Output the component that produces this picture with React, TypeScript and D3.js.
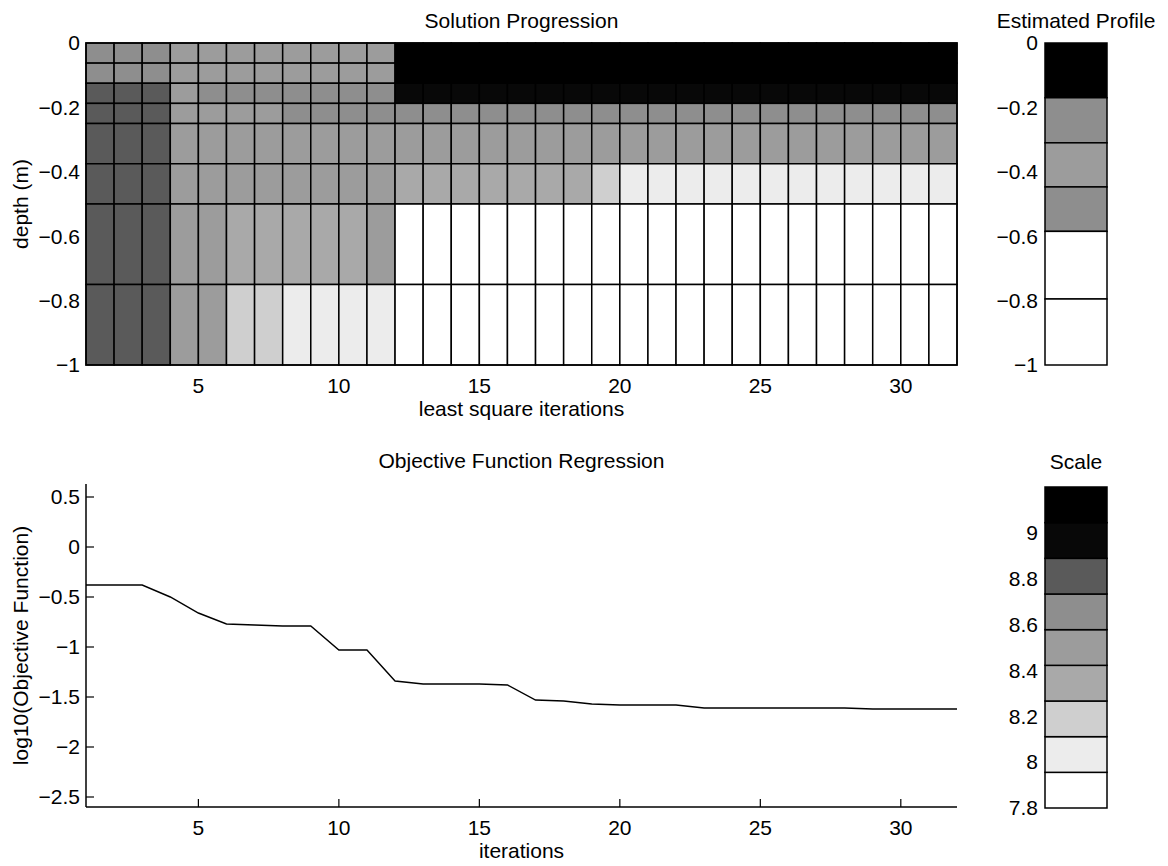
import React from 'react';
import * as d3 from 'd3';

// ---------- data ----------
const iterationsAxis = [1, 32];
const iterTicks = [5, 10, 15, 20, 25, 30];
const depthTicks = [0, -0.2, -0.4, -0.6, -0.8, -1];
const objTicks = [0.5, 0, -0.5, -1, -1.5, -2, -2.5];
const scaleTicks = [7.8, 8, 8.2, 8.4, 8.6, 8.8, 9];
const scaleDomain = [7.8, 9.2];

// grey levels of the 9 colour bands (white -> black)
const bandGrays = ['#ffffff', '#ececec', '#cfcfcf', '#a9a9a9', '#9c9c9c', '#8e8e8e', '#5a5a5a', '#080808', '#000000'];

// log10(objective function) per iteration 1..32
const objectiveLog10 = [
  -0.38, -0.38, -0.38, -0.5, -0.66, -0.77, -0.78, -0.79, -0.79, -1.03, -1.03,
  -1.34, -1.37, -1.37, -1.37, -1.38, -1.53, -1.54, -1.57, -1.58, -1.58, -1.58,
  -1.61, -1.61, -1.61, -1.61, -1.61, -1.61, -1.62, -1.62, -1.62, -1.62,
];

// depth layer edges of the solution progression grid
const depthEdges = [0, -0.0625, -0.125, -0.1875, -0.25, -0.375, -0.5, -0.75, -1];

// layer values per iteration column (31 columns)
const layer1 = [8.7, 8.7, 8.7, 8.52, 8.5, 8.48, 8.5, 8.53, 8.55, 8.55, 8.56, 9.1, 9.1, 9.1, 9.1, 9.1, 9.1, 9.1, 9.1, 9.1, 9.1, 9.1, 9.1, 9.1, 9.1, 9.1, 9.1, 9.1, 9.1, 9.1, 9.1];
const layer2 = [8.7, 8.7, 8.7, 8.52, 8.5, 8.48, 8.5, 8.53, 8.55, 8.55, 8.56, 9.1, 9.1, 9.1, 9.1, 9.1, 9.1, 9.1, 9.1, 9.1, 9.1, 9.1, 9.1, 9.1, 9.1, 9.1, 9.1, 9.1, 9.1, 9.1, 9.1];
const layer3 = [8.82, 8.82, 8.82, 8.55, 8.58, 8.6, 8.62, 8.62, 8.63, 8.63, 8.64, 8.95, 8.95, 8.95, 8.95, 8.95, 8.95, 8.95, 8.95, 8.95, 8.95, 8.95, 8.95, 8.95, 8.95, 8.95, 8.95, 8.95, 8.95, 8.95, 8.95];
const layer4 = [8.8, 8.8, 8.8, 8.5, 8.52, 8.55, 8.56, 8.58, 8.58, 8.58, 8.6, 8.62, 8.62, 8.62, 8.62, 8.62, 8.62, 8.62, 8.62, 8.62, 8.62, 8.62, 8.62, 8.62, 8.62, 8.62, 8.62, 8.62, 8.62, 8.62, 8.62];
const layer5 = [8.8, 8.8, 8.8, 8.45, 8.45, 8.46, 8.48, 8.5, 8.5, 8.52, 8.52, 8.55, 8.55, 8.55, 8.55, 8.55, 8.55, 8.55, 8.55, 8.55, 8.55, 8.55, 8.55, 8.55, 8.55, 8.55, 8.55, 8.55, 8.55, 8.55, 8.55];
const layer6 = [8.8, 8.8, 8.8, 8.48, 8.5, 8.5, 8.5, 8.52, 8.52, 8.53, 8.53, 8.38, 8.36, 8.33, 8.32, 8.33, 8.32, 8.3, 8.2, 8.05, 8.05, 8.05, 8.05, 8.05, 8.05, 8.05, 8.05, 8.05, 8.05, 8.05, 8.05];
const layer7 = [8.8, 8.8, 8.8, 8.5, 8.48, 8.42, 8.38, 8.36, 8.38, 8.36, 8.45, 7.85, 7.85, 7.85, 7.85, 7.85, 7.85, 7.85, 7.85, 7.85, 7.85, 7.85, 7.85, 7.85, 7.85, 7.85, 7.85, 7.85, 7.85, 7.85, 7.85];
const layer8 = [8.8, 8.8, 8.8, 8.5, 8.45, 8.25, 8.15, 8.05, 8.05, 8.05, 8.05, 7.85, 7.85, 7.85, 7.85, 7.85, 7.85, 7.85, 7.85, 7.85, 7.85, 7.85, 7.85, 7.85, 7.85, 7.85, 7.85, 7.85, 7.85, 7.85, 7.85];
const layers = [layer1, layer2, layer3, layer4, layer5, layer6, layer7, layer8];

// estimated profile
const profileEdges = [0, -0.17, -0.31, -0.447, -0.585, -0.795, -1];
const profileValues = [9.1, 8.62, 8.45, 8.6, 7.85, 7.85];

// ---------- layout ----------
const W = 1168;
const H = 866;
const L = 86;
const R = 957;
const T1 = 43;
const B1 = 365;
const T2 = 484;
const B2 = 807;
const CL = 1045;
const CR = 1107;
const CT2 = 487;
const CB2 = 808;
const FONT = '"Liberation Sans", Arial, Helvetica, sans-serif';
const FS = 21;
const SW = 1.5;

const fmt = (v: number) => String(v).replace('-', '\u2212');

export default function App() {
  const x = d3.scaleLinear().domain(iterationsAxis).range([L, R]);
  const yDepth = d3.scaleLinear().domain([0, -1]).range([T1, B1]);
  const yObj = d3.scaleLinear().domain([0.63, -2.6]).range([T2, B2]);
  const yScale = d3.scaleLinear().domain(scaleDomain).range([CB2, CT2]);
  const color = d3.scaleQuantize<string>().domain(scaleDomain).range(bandGrays);

  const line = d3
    .line<number>()
    .x((_, i) => x(i + 1))
    .y((d) => yObj(d));

  const step = (scaleDomain[1] - scaleDomain[0]) / bandGrays.length;
  const bandEdges = bandGrays.map((_, i) => scaleDomain[0] + step * i);
  const midX = (L + R) / 2;
  const cbMid = (CL + CR) / 2;

  return (
    <div style={{ position: 'absolute', left: 0, top: 0 }}>
      <svg width={W} height={H} style={{ display: 'block', background: '#fff' }} fontFamily={FONT} fontSize={FS}>
        {/* ---------- Solution progression ---------- */}
        <g>
          {layers.map((row, r) =>
            row.map((v, c) => (
              <rect
                key={`c${r}-${c}`}
                x={x(c + 1)}
                y={yDepth(depthEdges[r])}
                width={x(c + 2) - x(c + 1)}
                height={yDepth(depthEdges[r + 1]) - yDepth(depthEdges[r])}
                fill={color(v)}
                stroke="#000"
                strokeWidth={SW}
              />
            ))
          )}
          <rect x={L} y={T1} width={R - L} height={B1 - T1} fill="none" stroke="#000" strokeWidth={SW} />
          <text x={midX} y={28} textAnchor="middle">Solution Progression</text>
          {depthTicks.map((t) => (
            <text key={`dt${t}`} x={80} y={yDepth(t)} dy="0.35em" textAnchor="end">{fmt(t)}</text>
          ))}
          {iterTicks.map((t) => (
            <text key={`it1${t}`} x={x(t)} y={B1 + 28} textAnchor="middle">{fmt(t)}</text>
          ))}
          <text x={midX} y={B1 + 51} textAnchor="middle">least square iterations</text>
          <text transform={`translate(28,${(T1 + B1) / 2}) rotate(-90)`} textAnchor="middle">depth (m)</text>
        </g>

        {/* ---------- Estimated profile ---------- */}
        <g>
          {profileValues.map((v, i) => (
            <rect
              key={`p${i}`}
              x={CL}
              y={yDepth(profileEdges[i])}
              width={CR - CL}
              height={yDepth(profileEdges[i + 1]) - yDepth(profileEdges[i])}
              fill={color(v)}
              stroke="#000"
              strokeWidth={SW}
            />
          ))}
          <text x={cbMid} y={28} textAnchor="middle">Estimated Profile</text>
          {depthTicks.map((t) => (
            <text key={`pt${t}`} x={1038} y={yDepth(t)} dy="0.35em" textAnchor="end">{fmt(t)}</text>
          ))}
        </g>

        {/* ---------- Objective function regression ---------- */}
        <g>
          <line x1={L} x2={L} y1={T2} y2={B2} stroke="#000" strokeWidth={SW} />
          <line x1={L} x2={R} y1={B2} y2={B2} stroke="#000" strokeWidth={SW} />
          {objTicks.map((t) => (
            <g key={`ot${t}`}>
              <line x1={L} x2={L + 8} y1={yObj(t)} y2={yObj(t)} stroke="#000" strokeWidth={1.2} />
              <text x={80} y={yObj(t)} dy="0.35em" textAnchor="end">{fmt(t)}</text>
            </g>
          ))}
          {iterTicks.map((t) => (
            <g key={`it2${t}`}>
              <line x1={x(t)} x2={x(t)} y1={B2} y2={B2 - 8} stroke="#000" strokeWidth={1.2} />
              <text x={x(t)} y={B2 + 28} textAnchor="middle">{fmt(t)}</text>
            </g>
          ))}
          <path d={line(objectiveLog10) || ''} fill="none" stroke="#000" strokeWidth={1.4} />
          <text x={midX} y={468} textAnchor="middle">Objective Function Regression</text>
          <text x={midX} y={B2 + 51} textAnchor="middle">iterations</text>
          <text transform={`translate(28,${(T2 + B2) / 2}) rotate(-90)`} textAnchor="middle">log10(Objective Function)</text>
        </g>

        {/* ---------- Scale colour bar ---------- */}
        <g>
          {bandGrays.map((g, i) => (
            <rect
              key={`s${i}`}
              x={CL}
              y={yScale(bandEdges[i] + step)}
              width={CR - CL}
              height={yScale(bandEdges[i]) - yScale(bandEdges[i] + step)}
              fill={g}
              stroke="#000"
              strokeWidth={SW}
            />
          ))}
          <text x={cbMid} y={469} textAnchor="middle">Scale</text>
          {scaleTicks.map((t) => (
            <text key={`st${t}`} x={1038} y={yScale(t)} dy="0.35em" textAnchor="end">{fmt(t)}</text>
          ))}
        </g>
      </svg>
    </div>
  );
}
